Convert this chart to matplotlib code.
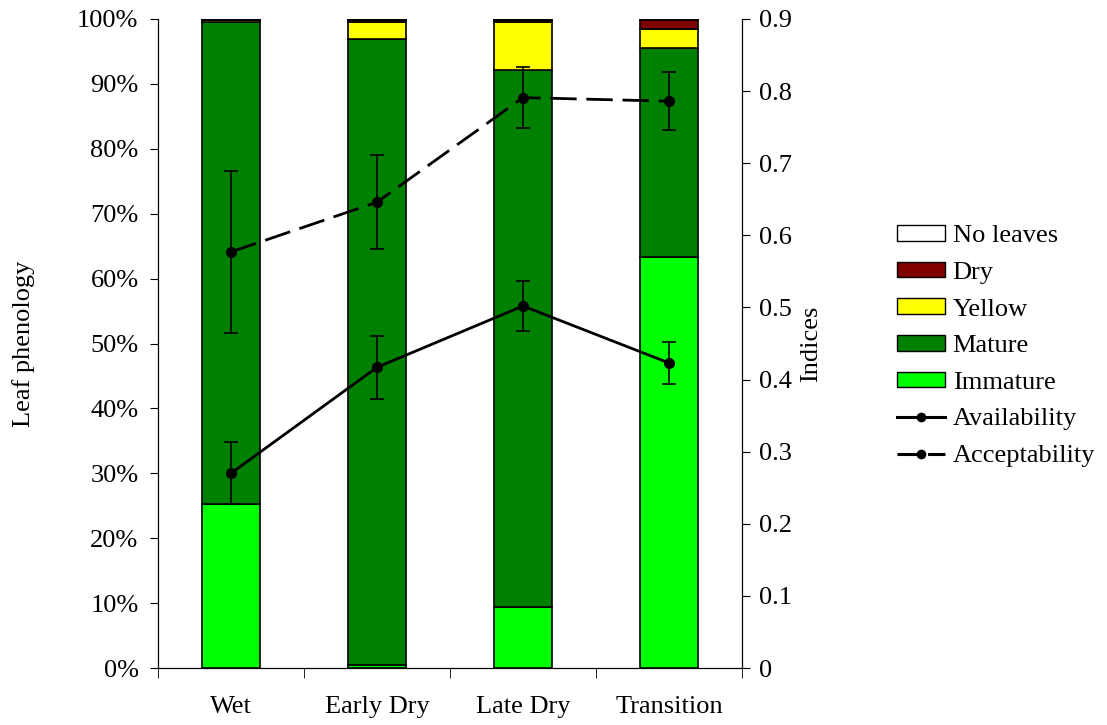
import numpy as np
from matplotlib import pyplot as plt
from matplotlib.patches import Patch
from matplotlib.lines import Line2D

# Seasons and leaf phenology shares (%)
seasons = ["Wet", "Early Dry", "Late Dry", "Transition"]
immature = [25.3, 0.4, 9.4, 63.3]
mature = [74.2, 96.5, 82.7, 32.2]
yellow = [0.3, 2.6, 7.4, 3.0]
dry = [0.1, 0.4, 0.3, 1.3]
no_leaves = [0.1, 0.1, 0.2, 0.2]

# Indices (right axis) with error bars
availability = [0.270, 0.417, 0.502, 0.423]
availability_err = [0.043, 0.044, 0.035, 0.029]
acceptability = [0.577, 0.646, 0.791, 0.786]
acceptability_err = [0.112, 0.065, 0.042, 0.040]

plt.rcParams['font.family'] = ['Liberation Serif', 'DejaVu Serif']
plt.rcParams['font.size'] = 19

fig = plt.figure(figsize=(11.07, 7.25), dpi=100)
ax = fig.add_axes([0.1427, 0.0786, 0.5276, 0.8952])
x = np.arange(len(seasons))
w = 0.4

layers = [
    (immature, "#00FF00", "Immature"),
    (mature, "#008000", "Mature"),
    (yellow, "#FFFF00", "Yellow"),
    (dry, "#800000", "Dry"),
    (no_leaves, "#FFFFFF", "No leaves"),
]
bottom = np.zeros(len(seasons))
for vals, col, name in layers:
    ax.bar(x, vals, w, bottom=bottom, color=col, edgecolor="black", linewidth=1.2)
    bottom += np.array(vals)

ax.set_xlim(-0.5, 3.5)
ax.set_ylim(0, 100)
ax.set_yticks(np.arange(0, 101, 10))
ax.set_yticklabels([f"{v}%" for v in range(0, 101, 10)])
ax.set_xticks(x)
ax.set_xticklabels(seasons)
ax.set_xticks(np.arange(-0.5, 3.6, 1), minor=True)
ax.tick_params(axis='x', which='major', length=0, pad=20)
ax.tick_params(axis='x', which='minor', length=7, direction='out')
ax.tick_params(axis='y', length=6, direction='out', pad=8)
ax.set_ylabel("Leaf phenology", labelpad=30)
ax.spines['top'].set_visible(False)

ax2 = ax.twinx()
ax2.set_ylim(0, 0.9)
ax2.set_yticks(np.arange(0, 0.91, 0.1))
ax2.set_yticklabels(["0"] + [f"{v:.1f}" for v in np.arange(0.1, 0.91, 0.1)])
ax2.tick_params(axis='y', length=6, direction='out', pad=6)
ax2.set_ylabel("Indices", labelpad=6)
ax2.spines['top'].set_visible(False)

ax2.errorbar(x, availability, yerr=availability_err, color="black", lw=2,
             marker="o", ms=7, capsize=5, elinewidth=1.2, capthick=1.2)
ax2.errorbar(x, acceptability, yerr=acceptability_err, color="black", lw=2,
             marker="o", ms=7, capsize=5, elinewidth=1.2, capthick=1.2,
             dashes=(9.5, 3.5))

handles = [Patch(facecolor=c, edgecolor="black", label=n) for _, c, n in layers[::-1]]
handles.append(Line2D([], [], color="black", lw=2.2, marker="o", ms=6, label="Availability"))
handles.append(Line2D([], [], color="black", lw=2.2, marker="o", ms=6,
                      dashes=(7.8, 2.2), label="Acceptability"))
fig.legend(handles=handles, loc="upper left", bbox_to_anchor=(0.801, 0.704),
           frameon=False, fontsize=19, handlelength=1.82, handleheight=0.53,
           labelspacing=0.55, handletextpad=0.28, borderaxespad=0)

fig.savefig("out.png", dpi=100)
